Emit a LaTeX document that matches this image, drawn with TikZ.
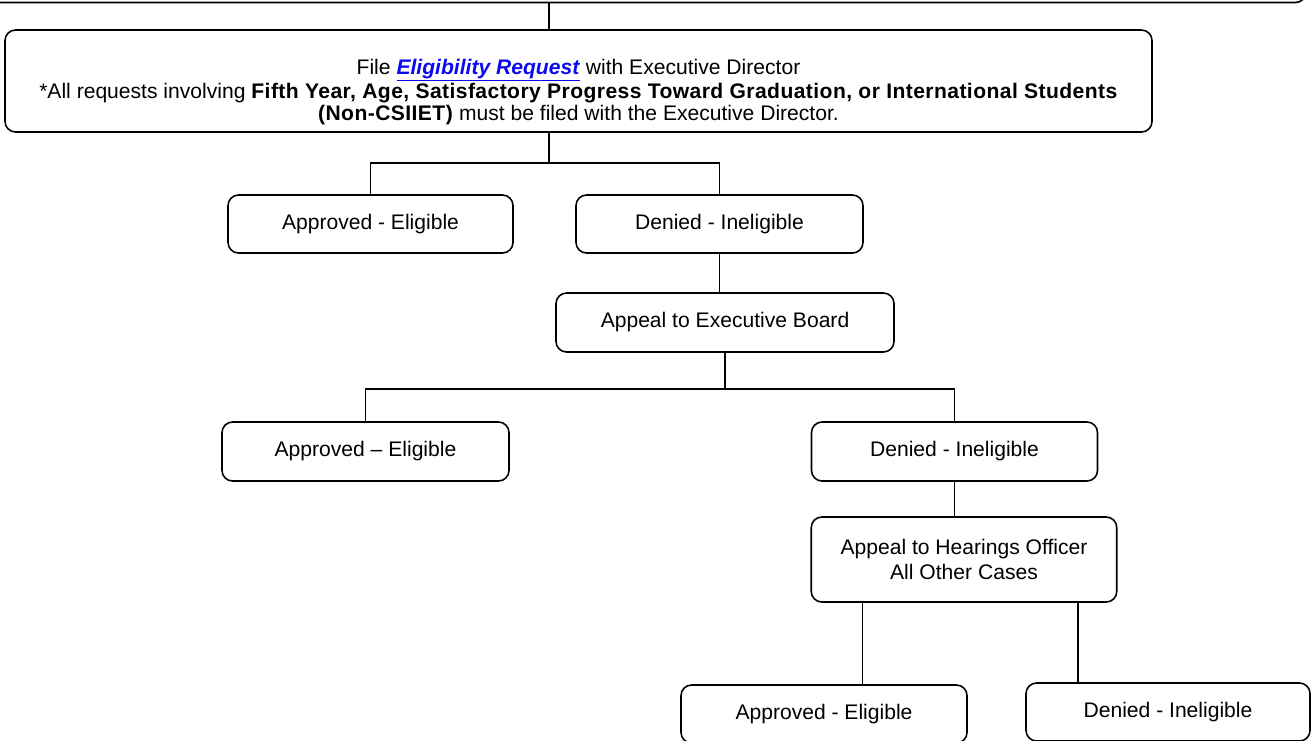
\documentclass[tikz,border=0pt]{standalone}
\usepackage{fontspec}
\setmainfont{Liberation Sans}
\usepackage{tikz}
\usetikzlibrary{positioning}
\definecolor{linkblue}{RGB}{10,10,240}
\newcommand{\reqlink}[1]{\textcolor{linkblue}{\underline{\textbf{\textit{#1}}}}}
\newcommand{\widebf}[1]{\textbf{\addfontfeature{LetterSpace=2}#1}}

\begin{document}
\begin{tikzpicture}[
    flowbox/.style={draw, rounded corners=6pt, rectangle, line width=0.9pt, align=center, font=\fontsize{12}{14}\selectfont},
    link/.style={line width=0.75pt}
]
    \useasboundingbox (0, 0) rectangle (26.22, -14.8);
    \clip (0, 0) rectangle (26.22, -14.8);

    % Request to the Executive Director
    \node (top) at (12.96, 0.95) [flowbox, minimum width=26.32cm, minimum height=2cm] {};
    \node (file) at (11.57, -1.62) [flowbox, minimum width=22.94cm, minimum height=2.04cm] {};
    \node (filetext) at (11.57, -1.84) [align=center, font=\fontsize{12}{12.5}\selectfont] {File \reqlink{Eligibility Request} with Executive Director \\ *All requests involving \widebf{Fifth Year, Age, Satisfactory Progress Toward Graduation, or International Students} \\ \widebf{(Non-CSIIET)} must be filed with the Executive Director.};
    \coordinate (fork1) at (10.98, -3.26);
    \draw[link] (top.south -| fork1) -- (file.north -| fork1);
    \draw[link] (file.south -| fork1) -- (fork1);

    % First decision
    \node (app1) at (7.41, -4.48) [flowbox, minimum width=5.7cm, minimum height=1.16cm] {Approved - Eligible};
    \node (den1) at (14.39, -4.48) [flowbox, minimum width=5.74cm, minimum height=1.16cm] {Denied - Ineligible};
    \draw[link] (app1.north) |- (fork1) -| (den1.north);

    % Executive Board
    \node (board) at (14.5, -6.45) [flowbox, minimum width=6.76cm, minimum height=1.18cm] {Appeal to Executive Board};
    \draw[link] (den1.south) -- (board.north -| den1.south);
    \coordinate (fork2) at (14.5, -7.78);
    \draw[link] (board.south) -- (fork2);

    \node (app2) at (7.31, -9.03) [flowbox, minimum width=5.74cm, minimum height=1.18cm] {Approved – Eligible};
    \node (den2) at (19.09, -9.03) [flowbox, minimum width=5.72cm, minimum height=1.18cm] {Denied - Ineligible};
    \draw[link] (app2.north) |- (fork2) -| (den2.north);

    % Hearings Officer
    \node (hear) at (19.28, -11.19) [flowbox, minimum width=6.11cm, minimum height=1.7cm] {Appeal to Hearings Officer \\ All Other Cases};
    \draw[link] (den2.south) -- (hear.north -| den2.south);

    \node (app3) at (16.48, -14.28) [flowbox, minimum width=5.72cm, minimum height=1.16cm] {Approved - Eligible};
    \node (den3) at (23.36, -14.24) [flowbox, minimum width=5.68cm, minimum height=1.16cm] {Denied - Ineligible};
    \coordinate (leg1) at (17.25, -12.04);
    \coordinate (leg2) at (21.56, -12.04);
    \draw[link] (leg1) -- (leg1 |- app3.north);
    \draw[link] (leg2) -- (leg2 |- den3.north);
\end{tikzpicture}
\end{document}
